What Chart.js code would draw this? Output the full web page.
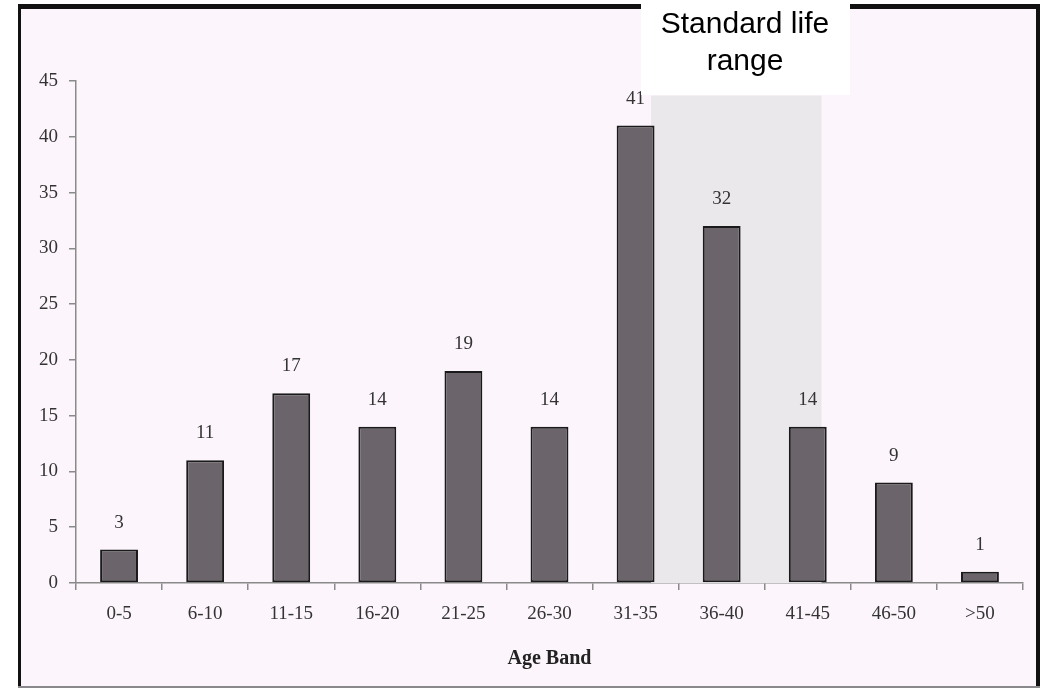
<!DOCTYPE html>
<html>
<head>
<meta charset="utf-8">
<script src="https://cdn.jsdelivr.net/npm/chart.js@4"></script>
<style>
  html, body { margin: 0; padding: 0; background: #ffffff; }
  #wrap { width: 1043px; height: 688px; position: relative; }
</style>
</head>
<body>
<div id="wrap"><canvas id="c" width="1043" height="688"></canvas></div>
<script>
// ---- data ----
const categories = ['0-5', '6-10', '11-15', '16-20', '21-25', '26-30', '31-35', '36-40', '41-45', '46-50', '>50'];
const counts = [3, 11, 17, 14, 19, 14, 41, 32, 14, 9, 1];
const yTicks = [0, 5, 10, 15, 20, 25, 30, 35, 40, 45];
const xTitle = 'Age Band';
const annotationLines = ['Standard life', 'range'];
// shaded "standard life" band, in category-index / value units
const shadeFromIndex = 6.18;
const shadeToIndex = 8.16;
const shadeTopValue = 43.7;

const SERIF = '"Liberation Serif", "DejaVu Serif", serif';
const SANS = '"Liberation Sans", Arial, sans-serif';

const framePlugin = {
  id: 'frame',
  beforeDraw(chart) {
    const ctx = chart.ctx;
    const W = chart.width, H = chart.height;
    ctx.save();
    ctx.fillStyle = '#ffffff';
    ctx.fillRect(0, 0, W, H);
    ctx.fillStyle = '#fcf6fc';
    ctx.fillRect(20, 7, 1017, 680);
    ctx.fillStyle = '#111111';
    ctx.fillRect(18, 4, 1022, 5);     // top
    ctx.fillRect(18, 4, 3, 684);      // left
    ctx.fillRect(1036, 4, 4, 684);    // right
    ctx.fillStyle = '#8a888a';
    ctx.fillRect(18, 686, 1022, 2);   // bottom
    ctx.restore();
  }
};

const shadePlugin = {
  id: 'shade',
  beforeDatasetsDraw(chart) {
    const {ctx, scales: {x, y}} = chart;
    const x0 = x.getPixelForValue(shadeFromIndex);
    const x1 = x.getPixelForValue(shadeToIndex);
    const y0 = y.getPixelForValue(shadeTopValue);
    const y1 = y.getPixelForValue(0);
    ctx.save();
    ctx.fillStyle = '#ebe8eb';
    ctx.fillRect(x0, y0, x1 - x0, y1 - y0);
    ctx.restore();
  }
};

const labelPlugin = {
  id: 'valueLabels',
  afterDatasetsDraw(chart) {
    const ctx = chart.ctx;
    const meta = chart.getDatasetMeta(0);
    ctx.save();
    ctx.font = '19px ' + SERIF;
    ctx.fillStyle = '#333333';
    ctx.textAlign = 'center';
    ctx.textBaseline = 'middle';
    meta.data.forEach((bar, i) => {
      ctx.fillText(String(counts[i]), bar.x, bar.y - 27);
    });
    ctx.restore();
  }
};

const annotationPlugin = {
  id: 'annotationBox',
  afterDraw(chart) {
    const ctx = chart.ctx;
    ctx.save();
    ctx.fillStyle = '#ffffff';
    ctx.fillRect(641, 0, 209, 95);
    ctx.fillStyle = '#000000';
    ctx.font = '30px ' + SANS;
    ctx.textAlign = 'center';
    ctx.textBaseline = 'middle';
    ctx.fillText(annotationLines[0], 745, 25);
    ctx.fillText(annotationLines[1], 745, 62);
    ctx.restore();
  }
};

new Chart(document.getElementById('c'), {
  type: 'bar',
  data: {
    labels: categories,
    datasets: [{
      data: counts,
      backgroundColor: '#6b646b',
      borderColor: '#1a1a1a',
      borderWidth: 2,
      borderSkipped: false,
      barPercentage: 0.44,
      categoryPercentage: 1.0
    }]
  },
  options: {
    responsive: false,
    animation: false,
    layout: { padding: { left: 0, right: 20, top: 81, bottom: 0 } },
    plugins: { legend: { display: false }, tooltip: { enabled: false } },
    scales: {
      x: {
        offset: true,
        grid: { display: true, drawOnChartArea: false, offset: true, tickLength: 7, color: '#8a8a8a', lineWidth: 1.5 },
        border: { display: true, color: '#8a8a8a', width: 1.5 },
        ticks: { color: '#333333', font: { family: SERIF, size: 19 }, padding: 13, maxRotation: 0, autoSkip: false },
        title: { display: true, text: xTitle, color: '#222222', font: { family: SERIF, size: 20, weight: 'bold' }, padding: { top: 4, bottom: 17 } },
        afterFit(scale) { scale.height = 105; }
      },
      y: {
        min: 0, max: 45,
        afterBuildTicks(scale) { scale.ticks = yTicks.map(v => ({ value: v })); },
        grid: { display: true, drawOnChartArea: false, tickLength: 7, color: '#8a8a8a', lineWidth: 1.5 },
        border: { display: true, color: '#8a8a8a', width: 1.5 },
        ticks: { color: '#333333', font: { family: SERIF, size: 19 }, padding: 11 },
        afterFit(scale) { scale.width = 76; }
      }
    }
  },
  plugins: [framePlugin, shadePlugin, labelPlugin, annotationPlugin]
});
</script>
</body>
</html>
